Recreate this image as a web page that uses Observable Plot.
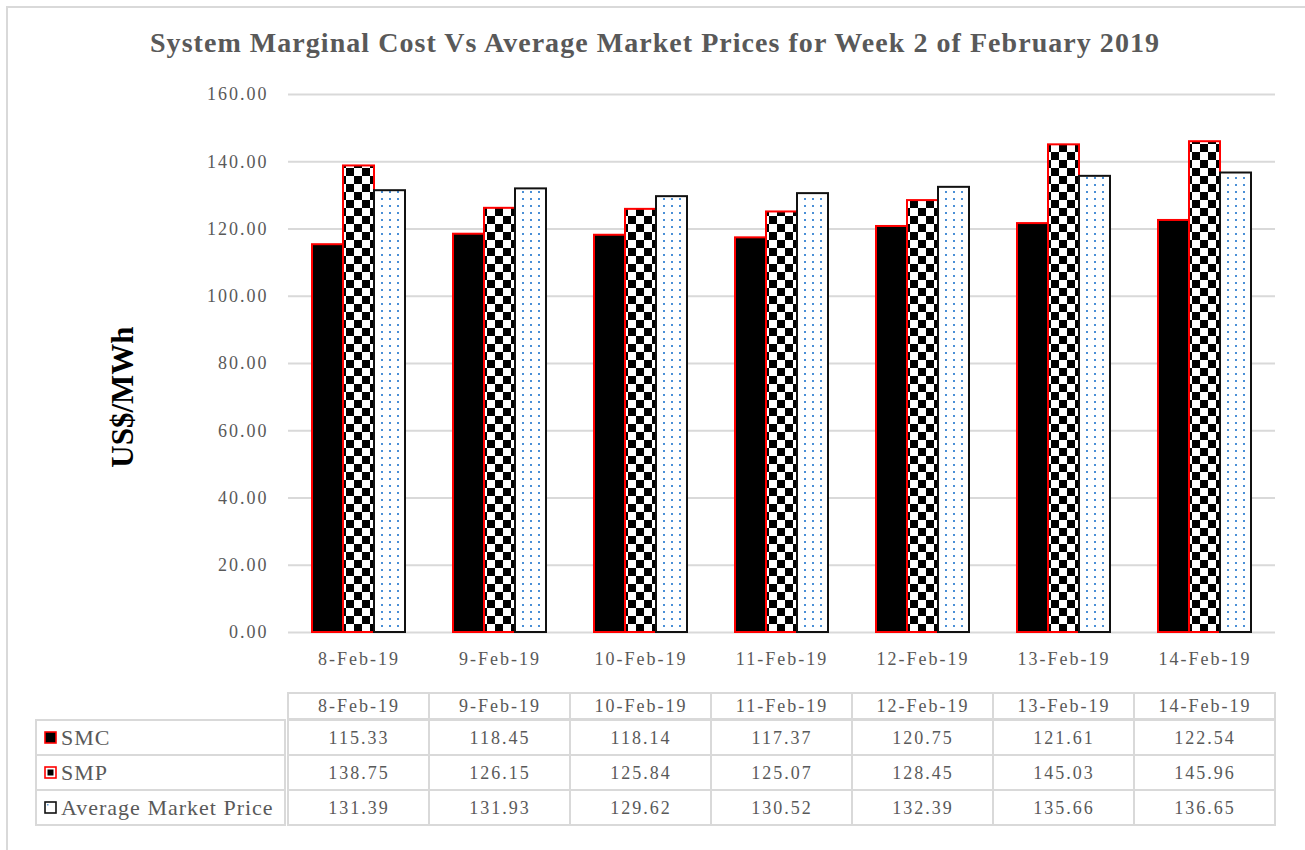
<!DOCTYPE html>
<html>
<head>
<meta charset="utf-8">
<script src="https://cdn.jsdelivr.net/npm/d3@7"></script>
<script src="https://cdn.jsdelivr.net/npm/@observablehq/plot@0.6"></script>
<style>
html, body { margin: 0; padding: 0; background: #fff; overflow: hidden; width: 1305px; height: 850px; }
#wrap { position: relative; width: 1305px; height: 850px; font-family: "Liberation Serif", serif; }
#border { position: absolute; left: 6px; top: 6px; width: 1330px; height: 880px; border: 2px solid #d9d9d9; box-sizing: border-box; }
#title { position: absolute; left: 0; top: 29px; width: 1310px; text-align: center; line-height: 1; }
#title span { font-family: "Liberation Serif", serif; font-weight: bold; font-size: 28px; color: #595959; white-space: nowrap; }
#ylabel { position: absolute; left: 122px; top: 397px; transform: translate(-50%, -50%) rotate(-90deg); font-family: "Liberation Serif", serif; font-weight: bold; font-size: 31px; color: #000; white-space: nowrap; line-height: 1; }
.abs { position: absolute; left: 0; }
</style>
</head>
<body>
<div id="wrap">
  <div id="border"></div>
  <div id="title"><span id="titleText">System Marginal Cost Vs Average Market Prices for Week 2 of February 2019</span></div>
  <div id="ylabel">US$/MWh</div>
  <div id="chart" class="abs" style="top:0"></div>
  <div id="thead" class="abs" style="top:692px"></div>
  <div id="tbody" class="abs" style="top:718px"></div>
</div>
<script>
// ---- data ----
const dates = ["8-Feb-19", "9-Feb-19", "10-Feb-19", "11-Feb-19", "12-Feb-19", "13-Feb-19", "14-Feb-19"];
const seriesNames = ["SMC", "SMP", "Average Market Price"];
const smc = [115.33, 118.45, 118.14, 117.37, 120.75, 121.61, 122.54];
const smp = [138.75, 126.15, 125.84, 125.07, 128.45, 145.03, 145.96];
const amp = [131.39, 131.93, 129.62, 130.52, 132.39, 135.66, 136.65];
const yTicks = [0, 20, 40, 60, 80, 100, 120, 140, 160];

const valuesBySeries = {"SMC": smc, "SMP": smp, "Average Market Price": amp};
const rows = dates.flatMap((d, i) => seriesNames.map(s => ({date: d, series: s, value: valuesBySeries[s][i]})));

// fit title width
const tt = document.getElementById("titleText");
const natural = tt.getBoundingClientRect().width;
const target = 1010;
tt.style.letterSpacing = ((target - natural) / tt.textContent.length) + "px";

const textStyle = {fontFamily: "'Liberation Serif', serif", fontSize: "18px", color: "#595959", letterSpacing: "2px", background: "transparent", overflow: "visible"};
const grid = "#d9d9d9";
const svgNS = "http://www.w3.org/2000/svg";

function addDefs(svg) {
  const defs = document.createElementNS(svgNS, "defs");
  defs.innerHTML = `
    <pattern id="checker" patternUnits="userSpaceOnUse" width="16" height="16">
      <rect width="16" height="16" fill="#fff"/>
      <rect width="8" height="8" fill="#000"/>
      <rect x="8" y="8" width="8" height="8" fill="#000"/>
    </pattern>
    <pattern id="dots" patternUnits="userSpaceOnUse" width="8" height="7">
      <rect width="8" height="7" fill="#fff"/>
      <rect x="3" y="2" width="2" height="2" fill="#4a8fd6"/>
    </pattern>`;
  svg.insertBefore(defs, svg.firstChild);
}

// ---- chart ----
const chart = Plot.plot({
  width: 1305,
  height: 690,
  marginTop: 94,
  marginBottom: 58,
  marginLeft: 286,
  marginRight: 28,
  style: textStyle,
  fx: {domain: dates, padding: 0, label: null},
  x: {domain: seriesNames, paddingInner: 0, paddingOuter: 0.75, axis: null},
  y: {domain: [0, 160], label: null},
  marks: [
    Plot.gridY(yTicks, {stroke: grid, strokeOpacity: 1, strokeWidth: 2}),
    Plot.axisY(yTicks, {tickSize: 0, tickPadding: 20, tickFormat: d => d.toFixed(2), label: null}),
    Plot.axisFx({anchor: "bottom", tickSize: 0, tickPadding: 20, label: null}),
    Plot.barY(rows.filter(d => d.series === "SMC"), {fx: "date", x: "series", y: "value", fill: "#000", stroke: "#ff0000", strokeWidth: 2}),
    Plot.barY(rows.filter(d => d.series === "SMP"), {fx: "date", x: "series", y: "value", fill: "url(#checker)", stroke: "#ff0000", strokeWidth: 2}),
    Plot.barY(rows.filter(d => d.series === "Average Market Price"), {fx: "date", x: "series", y: "value", fill: "url(#dots)", stroke: "#111", strokeWidth: 2})
  ]
});
addDefs(chart);
document.getElementById("chart").append(chart);

// ---- table header ----
const head = Plot.plot({
  width: 1305,
  height: 28,
  marginTop: 1,
  marginBottom: 1,
  marginLeft: 285,
  marginRight: 28,
  style: textStyle,
  x: {domain: dates, padding: 0, axis: null},
  marks: [
    Plot.cell(dates, {x: d => d, fill: "none", stroke: grid, strokeWidth: 2}),
    Plot.text(dates, {x: d => d, text: d => d, fill: "#595959", fontSize: 18})
  ]
});
document.getElementById("thead").append(head);

// ---- table body ----
const body = Plot.plot({
  width: 1305,
  height: 109,
  marginTop: 1,
  marginBottom: 2,
  marginLeft: 285,
  marginRight: 28,
  style: textStyle,
  x: {domain: dates, padding: 0, axis: null},
  y: {domain: seriesNames, padding: 0, axis: null},
  marks: [
    Plot.cell(rows, {x: "date", y: "series", fill: "none", stroke: grid, strokeWidth: 2}),
    Plot.text(rows, {x: "date", y: "series", text: d => d.value.toFixed(2), fill: "#595959", fontSize: 18}),
    // label column with legend keys
    (index, scales, values, dim) => {
      const g = d3.create("svg:g");
      const y = scales.y;
      const bw = y.bandwidth();
      const left = 36;
      for (const s of seriesNames) {
        const y0 = y(s);
        const cy = y0 + bw / 2;
        g.append("rect").attr("x", left).attr("y", y0).attr("width", dim.marginLeft - left).attr("height", bw)
          .attr("fill", "none").attr("stroke", grid).attr("stroke-width", 2);
        const kx = 45, ks = 11;
        if (s === "SMC") {
          g.append("rect").attr("x", kx).attr("y", cy - ks / 2).attr("width", ks).attr("height", ks)
            .attr("fill", "#000").attr("stroke", "#ff0000").attr("stroke-width", 1.6);
        } else if (s === "SMP") {
          g.append("rect").attr("x", kx).attr("y", cy - ks / 2).attr("width", ks).attr("height", ks)
            .attr("fill", "#fff").attr("stroke", "#ff0000").attr("stroke-width", 1.6);
          g.append("rect").attr("x", kx + 2.5).attr("y", cy - ks / 2 + 2.5).attr("width", ks - 5).attr("height", ks - 5)
            .attr("fill", "#000");
        } else {
          g.append("rect").attr("x", kx).attr("y", cy - ks / 2).attr("width", ks).attr("height", ks)
            .attr("fill", "#fff").attr("stroke", "#111").attr("stroke-width", 1.6);
          g.append("rect").attr("x", kx + 2).attr("y", cy - ks / 2 + 2).attr("width", 1.5).attr("height", 1.5)
            .attr("fill", "#5b9bd5");
        }
        g.append("text").attr("x", 61).attr("y", cy).attr("dy", "0.32em").attr("fill", "#595959")
          .attr("text-anchor", "start").attr("font-size", 22).attr("letter-spacing", "1px").text(s);
      }
      return g.node();
    }
  ]
});
document.getElementById("tbody").append(body);
</script>
</body>
</html>
